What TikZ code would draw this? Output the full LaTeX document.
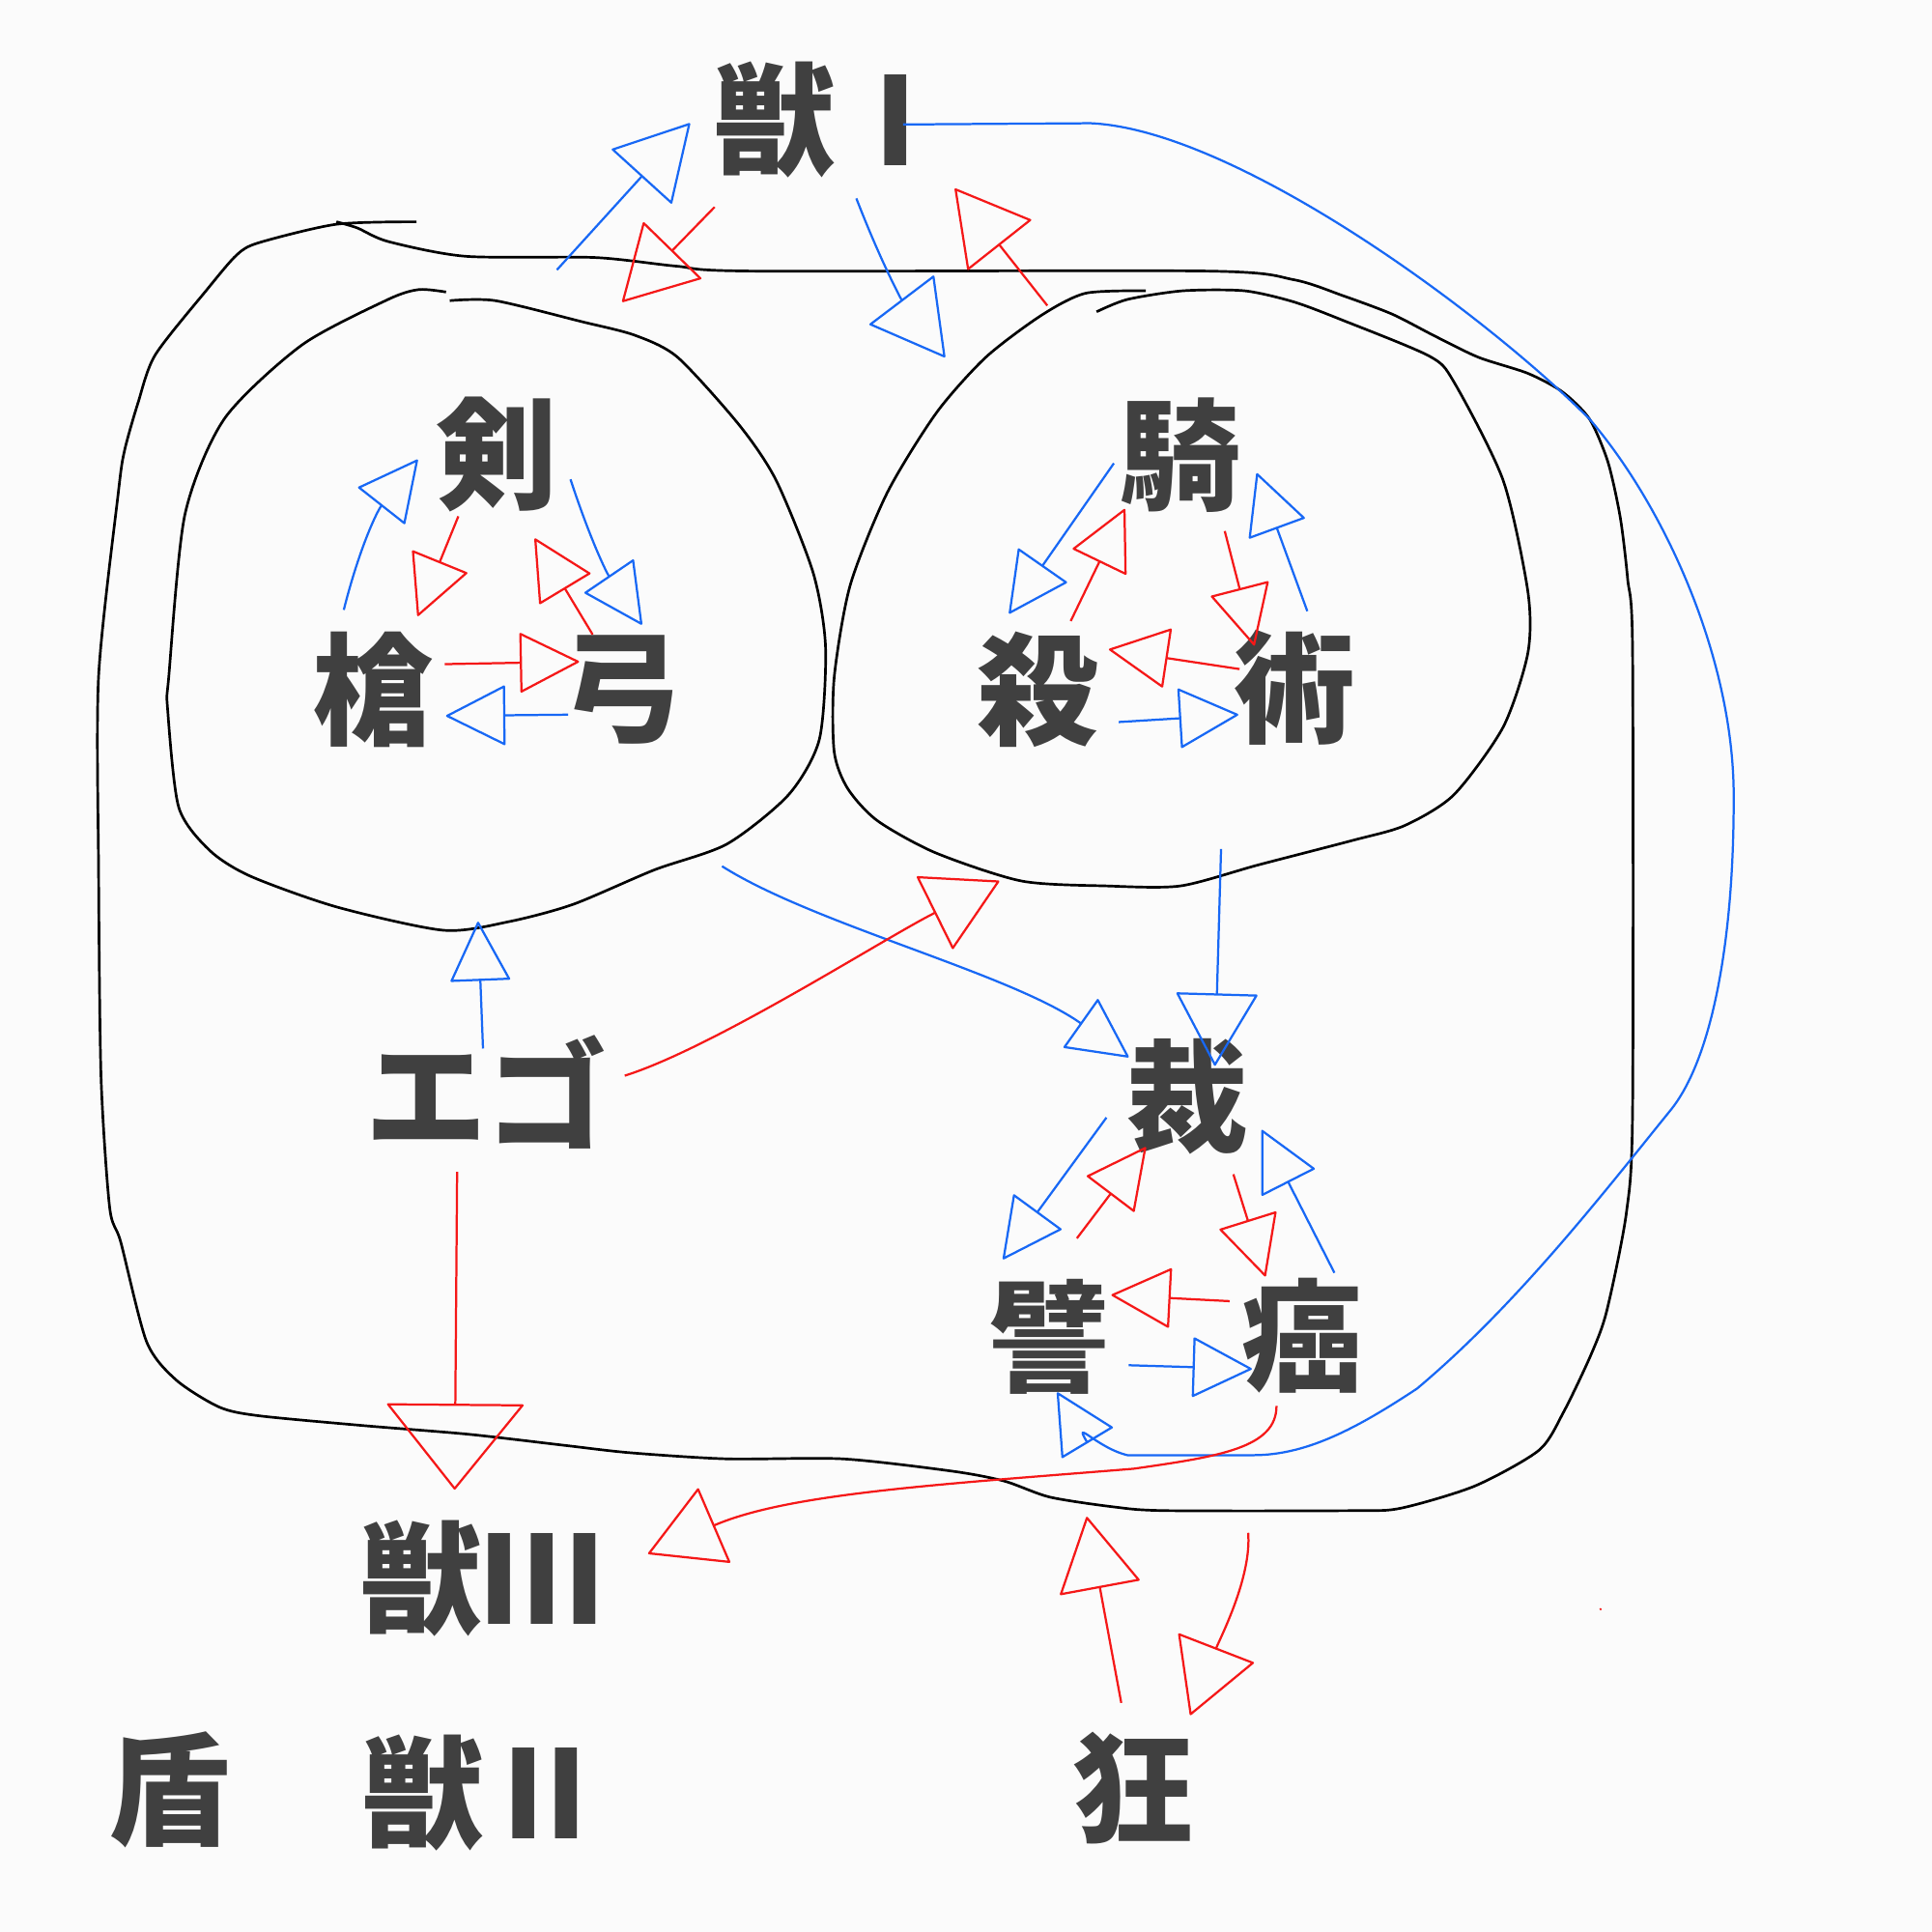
\documentclass[tikz,border=0pt]{standalone}
\usepackage{fontspec}
\newfontfamily\jp{Noto Sans CJK JP}
\usetikzlibrary{arrows.meta}
\definecolor{inkblue}{RGB}{24,104,245}
\definecolor{inkred}{RGB}{245,24,24}
\definecolor{inkgray}{RGB}{64,64,64}
\definecolor{paper}{RGB}{251,251,251}

\begin{document}
\begin{tikzpicture}[x=0.1mm,y=-0.1mm,
		moji/.style={font=\jp\bfseries\fontsize{28}{30}\selectfont,text=inkgray,inner sep=0pt},
		rim/.style={line width=0.6pt,draw=black},
		bluearr/.style={draw=inkblue,line width=0.5pt,-{Triangle[open,round,length=14pt,width=14pt]}},
		redarr/.style={draw=inkred,line width=0.5pt,-{Triangle[open,round,length=14pt,width=14pt]}},
		bighead/.style={-{Triangle[open,round,length=17pt,width=19pt]}},
		widehead/.style={-{Triangle[open,round,length=20pt,width=32pt]}}]
		\fill[paper] (0,0) rectangle (1568,1568);
		\useasboundingbox (0,0) rectangle (1568,1568);
		
		\node [moji] (jyu1)  at (678,97)    {獣Ⅰ};
		\node [moji] (ken)   at (403,369)   {剣};
		\node [moji] (yari)  at (303,560)   {槍};
		\node [moji] (yumi)  at (505,560)   {弓};
		\node [moji] (ki)    at (958,369)   {騎};
		\node [moji] (satsu) at (842,560)   {殺};
		\node [moji] (jutsu) at (1051,558)  {術};
		\node [moji] (ego)   at (395,886)   {エゴ};
		\node [moji] (sai)   at (964,890)   {裁};
		\node [moji] (hi)    at (852,1085)  {譬};
		\node [moji] (gan)   at (1057,1084) {癌};
		\node [moji] (jyu3)  at (391,1281)  {獣Ⅲ};
		\node [moji] (tate)  at (138,1453)  {盾};
		\node [moji] (jyu2)  at (393,1455)  {獣Ⅱ};
		\node [moji] (kyo)   at (920,1451)  {狂};
		
		% outlines
		\draw [rim] plot[smooth,tension=0.45] coordinates {(273,180) (290,185) (315,196) (378,208) (483,209) (549,216) (610,220) (980,220) (1050,227) (1090,240) (1130,255) (1165,273) (1200,290) (1240,303) (1268,318) (1290,340) (1305,375) (1315,420) (1321,470) (1325,530) (1325,900) (1320,984) (1304,1064) (1291,1100) (1269,1146) (1249,1177) (1197,1206) (1137,1224) (1098,1226) (946,1226) (904,1223) (852,1215) (815,1202) (773,1194) (684,1184) (590,1184) (511,1179) (458,1173) (380,1164) (295,1157) (210,1149) (178,1142) (143,1120) (119,1089) (98,1008) (89,980) (82,874) (80,706) (80,549) (96,400) (101,366) (112,327) (126,288) (168,235) (192,207) (210,197) (273,182) (338,180)};
		\draw [rim] plot[smooth,tension=0.45] coordinates {(365,244) (402,244) (472,261) (515,272) (550,290) (600,345) (630,390) (660,465) (670,525) (665,600) (640,645) (590,685) (531,706) (465,734) (413,748) (360,755) (273,736) (203,711) (170,690) (145,655) (136,575) (137,549) (150,418) (182,340) (245,280) (315,243) (340,235) (362,237)};
		\draw [rim] plot[smooth,tension=0.45] coordinates {(890,253) (915,243) (960,236) (1010,236) (1050,245) (1090,260) (1160,289) (1180,310) (1220,390) (1240,480) (1240,530) (1220,590) (1180,645) (1140,670) (1098,682) (1021,702) (958,719) (898,719) (829,715) (759,692) (712,666) (688,640) (677,610) (677,550) (690,475) (720,400) (760,335) (800,290) (845,256) (881,238) (930,236)};
		
		\coordinate (lt)  at (452,219);
		\coordinate (lt2) at (505,245);
		\coordinate (rt)  at (767,290);
		\coordinate (rt2) at (850,248);
		\coordinate (lc)  at (586,703);
		\coordinate (lb)  at (388,748);
		\coordinate (rc)  at (991,689);
		\coordinate (rb)  at (811,715);
		\coordinate (ob1) at (882,1231);
		\coordinate (ob2) at (1013,1244);
		
		% around 獣Ⅰ
		\draw [bluearr,bighead] (lt) -- ([shift={(-118,3)}]jyu1.center);
		\draw [redarr,bighead] ([shift={(-98,71)}]jyu1.center) -- (lt2);
		\draw [bluearr,bighead] ([shift={(17,64)}]jyu1.center) to[bend right=8] (rt);
		\draw [redarr,bighead] (rt2) -- ([shift={(97,56)}]jyu1.center);
		\draw [bluearr] ([shift={(55,4)}]jyu1.center) -- (885,100) .. controls (1000,105) and (1200,250) .. (1290,340) .. controls (1350,410) and (1405,530) .. (1407,640) .. controls (1408,760) and (1390,860) .. (1355,902) .. controls (1300,970) and (1230,1060) .. (1150,1127) .. controls (1100,1160) and (1060,1181) .. (1017,1181) -- (915,1181) .. controls (890,1175) and (870,1150) .. ([shift={(6,45)}]hi.center);
		
		% 剣 槍 弓
		\draw [bluearr] ([shift={(-24,-65)}]yari.center) to[bend left=12] ([shift={(-64,4)}]ken.center);
		\draw [redarr]  ([shift={(-31,50)}]ken.center) -- ([shift={(36,-60)}]yari.center);
		\draw [bluearr] ([shift={(60,20)}]ken.center) to[bend right=8] ([shift={(16,-53)}]yumi.center);
		\draw [redarr]  ([shift={(-24,-45)}]yumi.center) -- ([shift={(31,68)}]ken.center);
		\draw [redarr]  ([shift={(58,-21)}]yari.center) -- ([shift={(-35,-23)}]yumi.center);
		\draw [bluearr] ([shift={(-44,20)}]yumi.center) -- ([shift={(59,21)}]yari.center);
		
		% 騎 殺 術
		\draw [bluearr] ([shift={(-54,7)}]ki.center) -- ([shift={(-23,-62)}]satsu.center);
		\draw [redarr]  ([shift={(27,-56)}]satsu.center) -- ([shift={(-45,44)}]ki.center);
		\draw [bluearr] ([shift={(10,-62)}]jutsu.center) -- ([shift={(62,15)}]ki.center);
		\draw [redarr]  ([shift={(36,62)}]ki.center) -- ([shift={(-33,-34)}]jutsu.center);
		\draw [redarr]  ([shift={(-45,-15)}]jutsu.center) -- ([shift={(58,-33)}]satsu.center);
		\draw [bluearr] ([shift={(66,26)}]satsu.center) -- ([shift={(-46,22)}]jutsu.center);
		
		% 裁 譬 癌
		\draw [bluearr] ([shift={(-66,17)}]sai.center) -- ([shift={(-38,-63)}]hi.center);
		\draw [redarr]  ([shift={(22,-80)}]hi.center) -- ([shift={(-34,41)}]sai.center);
		\draw [bluearr] ([shift={(26,-51)}]gan.center) -- ([shift={(60,27)}]sai.center);
		\draw [redarr]  ([shift={(37,63)}]sai.center) -- ([shift={(-30,-48)}]gan.center);
		\draw [redarr]  ([shift={(-59,-28)}]gan.center) -- ([shift={(50,-34)}]hi.center);
		\draw [bluearr] ([shift={(64,23)}]hi.center) -- ([shift={(-41,27)}]gan.center);
		
		% between the groups
		\draw [bluearr] (lc) .. controls (660,750) and (820,790) .. ([shift={(-48,-32)}]sai.center);
		\draw [bluearr,bighead] (rc) -- ([shift={(22,-25)}]sai.center);
		\draw [redarr,bighead] ([shift={(112,-13)}]ego.center) .. controls (580,850) and (720,760) .. (rb);
		\draw [bluearr] ([shift={(-3,-35)}]ego.center) -- (lb);
		\draw [redarr,widehead] ([shift={(-24,65)}]ego.center) -- ([shift={(-22,-72)}]jyu3.center);
		\draw [redarr,bighead] ([shift={(-21,57)}]gan.center) .. controls (1036,1175) and (990,1182) .. (920,1192) .. controls (760,1205) and (640,1212) .. ([shift={(135,-20)}]jyu3.center);
		\draw [redarr,bighead] ([shift={(-10,-69)}]kyo.center) -- (ob1);
		\draw [redarr,bighead] (ob2) .. controls (1016,1280) and (990,1330) .. ([shift={(46,-59)}]kyo.center);
		\fill [inkred] (1299,1306) circle (1);
	\end{tikzpicture}
\end{document}
